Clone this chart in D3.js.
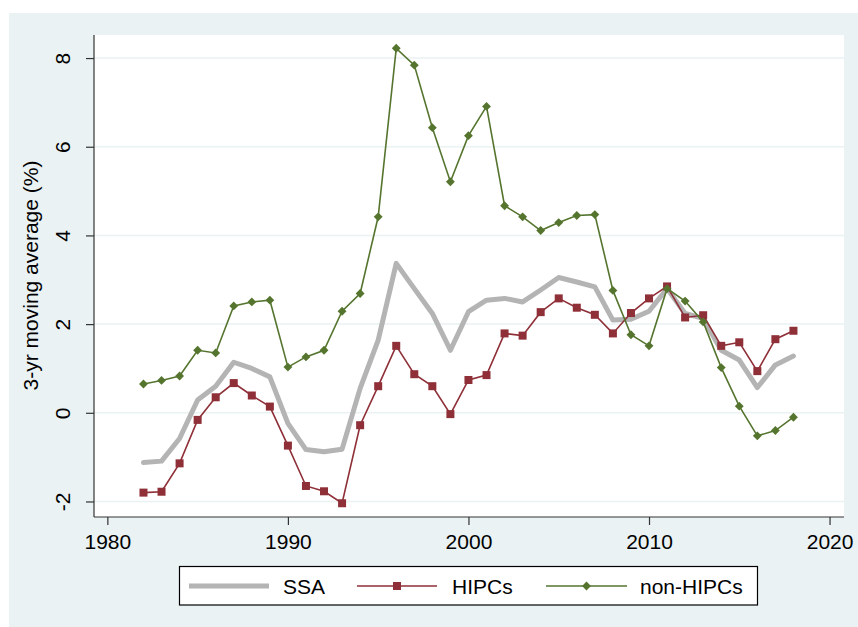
<!DOCTYPE html>
<html>
<head>
<meta charset="utf-8">
<script src="https://cdn.jsdelivr.net/npm/d3@7"></script>
<style>
  html, body { margin: 0; padding: 0; background: #ffffff; }
  svg { display: block; }
  text { font-family: "Liberation Sans", Arial, Helvetica, sans-serif; fill: #000; }
</style>
</head>
<body>
<svg id="chart" width="858" height="627"></svg>
<script>
const years = d3.range(1982, 2019);
const ssa = [-1.12, -1.09, -0.58, 0.29, 0.60, 1.14, 1.00, 0.81, -0.24, -0.83,
             -0.88, -0.82, 0.55, 1.64, 3.37, 2.80, 2.24, 1.41, 2.28, 2.54,
             2.58, 2.50, 2.77, 3.05, 2.95, 2.84, 2.09, 2.11, 2.29, 2.80,
             2.24, 2.13, 1.41, 1.19, 0.57, 1.08, 1.28];
const hipcs = [-1.80, -1.78, -1.14, -0.16, 0.35, 0.67, 0.39, 0.14, -0.74, -1.65,
               -1.77, -2.04, -0.28, 0.60, 1.51, 0.87, 0.60, -0.03, 0.74, 0.85,
               1.79, 1.74, 2.27, 2.58, 2.37, 2.21, 1.79, 2.25, 2.58, 2.85,
               2.15, 2.20, 1.51, 1.59, 0.94, 1.66, 1.85];
const nonHipcs = [0.65, 0.73, 0.83, 1.41, 1.35, 2.41, 2.50, 2.54, 1.03, 1.26,
                  1.41, 2.29, 2.69, 4.42, 8.22, 7.84, 6.43, 5.21, 6.25, 6.91,
                  4.67, 4.42, 4.11, 4.29, 4.45, 4.47, 2.76, 1.76, 1.51, 2.80,
                  2.52, 2.05, 1.02, 0.15, -0.52, -0.40, -0.10];
const xTicks = [1980, 1990, 2000, 2010, 2020];
const yTicks = [-2, 0, 2, 4, 6, 8];
const seriesNames = ["SSA", "HIPCs", "non-HIPCs"];
const yTitle = "3-yr moving average (%)";

const svg = d3.select("#chart");
const W = 858, H = 627;
const plot = { left: 94, right: 844, top: 35, bottom: 517 };
const FS = "21px";
const fmt = d => (d < 0 ? "-" + Math.abs(d) : String(d));

// outer graph region
svg.append("rect").attr("x", 9).attr("y", 13).attr("width", W - 9).attr("height", H - 13)
  .attr("fill", "#eaf2f3");
svg.append("rect").attr("x", plot.left).attr("y", plot.top)
  .attr("width", plot.right - plot.left).attr("height", plot.bottom - plot.top)
  .attr("fill", "#ffffff");

const x = d3.scaleLinear().domain([1979.26, 2020.8]).range([plot.left, plot.right]);
const y = d3.scaleLinear().domain([-2.35, 8.52]).range([plot.bottom, plot.top]);

// gridlines
svg.append("g").selectAll("line").data(yTicks).join("line")
  .attr("x1", plot.left).attr("x2", plot.right)
  .attr("y1", d => y(d)).attr("y2", d => y(d))
  .attr("stroke", "#eaf2f3").attr("stroke-width", 1.5);

// axes
const yAxis = d3.axisLeft(y).tickValues(yTicks).tickSize(8).tickPadding(0).tickFormat(fmt);
const gy = svg.append("g").attr("transform", `translate(${plot.left},0)`).call(yAxis);
gy.select(".domain").attr("stroke", "#333").attr("stroke-width", 1.2).attr("d", `M0,${plot.top}V${plot.bottom}`);
gy.selectAll(".tick line").attr("stroke", "#333").attr("stroke-width", 1.2);
gy.selectAll(".tick text")
  .attr("x", 0).attr("y", 0).attr("dy", 0)
  .attr("transform", "translate(-24,0) rotate(-90)")
  .attr("text-anchor", "middle")
  .style("font-size", FS).style("font-family", "'Liberation Sans', Arial, sans-serif").attr("fill", "#000");

const xAxis = d3.axisBottom(x).tickValues(xTicks).tickSize(8).tickPadding(4).tickFormat(fmt);
const gx = svg.append("g").attr("transform", `translate(0,${plot.bottom})`).call(xAxis);
gx.select(".domain").attr("stroke", "#333").attr("stroke-width", 1.2).attr("d", `M${plot.left},0H${plot.right}`);
gx.selectAll(".tick line").attr("stroke", "#333").attr("stroke-width", 1.2);
gx.selectAll(".tick text").attr("dy", "0.93em")
  .style("font-size", FS).style("font-family", "'Liberation Sans', Arial, sans-serif").attr("fill", "#000");

// y title
svg.append("text")
  .attr("transform", `translate(38,275.5) rotate(-90)`)
  .attr("text-anchor", "middle")
  .style("font-size", FS)
  .text(yTitle);

const line = d3.line().x((d, i) => x(years[i])).y(d => y(d));

// SSA
svg.append("path").datum(ssa).attr("d", line)
  .attr("fill", "none").attr("stroke", "#b4b4b4").attr("stroke-width", 5)
  .attr("stroke-linejoin", "round").attr("stroke-linecap", "round");

// HIPCs
const red = "#8f2f37";
svg.append("path").datum(hipcs).attr("d", line)
  .attr("fill", "none").attr("stroke", red).attr("stroke-width", 1.6);
svg.append("g").selectAll("rect").data(hipcs).join("rect")
  .attr("x", (d, i) => x(years[i]) - 4).attr("y", d => y(d) - 4)
  .attr("width", 8).attr("height", 8).attr("fill", red);

// non-HIPCs
const green = "#55752f";
svg.append("path").datum(nonHipcs).attr("d", line)
  .attr("fill", "none").attr("stroke", green).attr("stroke-width", 1.6);
const diamond = d3.symbol().type(d3.symbolDiamond2).size(50);
svg.append("g").selectAll("path").data(nonHipcs).join("path")
  .attr("transform", (d, i) => `translate(${x(years[i])},${y(d)})`)
  .attr("d", diamond).attr("fill", green);

// legend
const lg = svg.append("g");
lg.append("rect").attr("x", 179.5).attr("y", 566.5).attr("width", 578).attr("height", 38.5)
  .attr("fill", "#ffffff").attr("stroke", "#000").attr("stroke-width", 1.2);
const ly = 586;
lg.append("line").attr("x1", 189).attr("x2", 269).attr("y1", ly).attr("y2", ly)
  .attr("stroke", "#b4b4b4").attr("stroke-width", 5);
lg.append("text").attr("x", 283).attr("y", ly + 7.5).style("font-size", FS).text(seriesNames[0]);
lg.append("line").attr("x1", 357).attr("x2", 437).attr("y1", ly).attr("y2", ly)
  .attr("stroke", red).attr("stroke-width", 1.6);
lg.append("rect").attr("x", 397 - 4).attr("y", ly - 4).attr("width", 8).attr("height", 8).attr("fill", red);
lg.append("text").attr("x", 452).attr("y", ly + 7.5).style("font-size", FS).text(seriesNames[1]);
lg.append("line").attr("x1", 546).attr("x2", 627).attr("y1", ly).attr("y2", ly)
  .attr("stroke", green).attr("stroke-width", 1.6);
lg.append("path").attr("transform", `translate(586.5,${ly})`).attr("d", diamond).attr("fill", green);
lg.append("text").attr("x", 640).attr("y", ly + 7.5).style("font-size", FS).text(seriesNames[2]);
</script>
</body>
</html>
